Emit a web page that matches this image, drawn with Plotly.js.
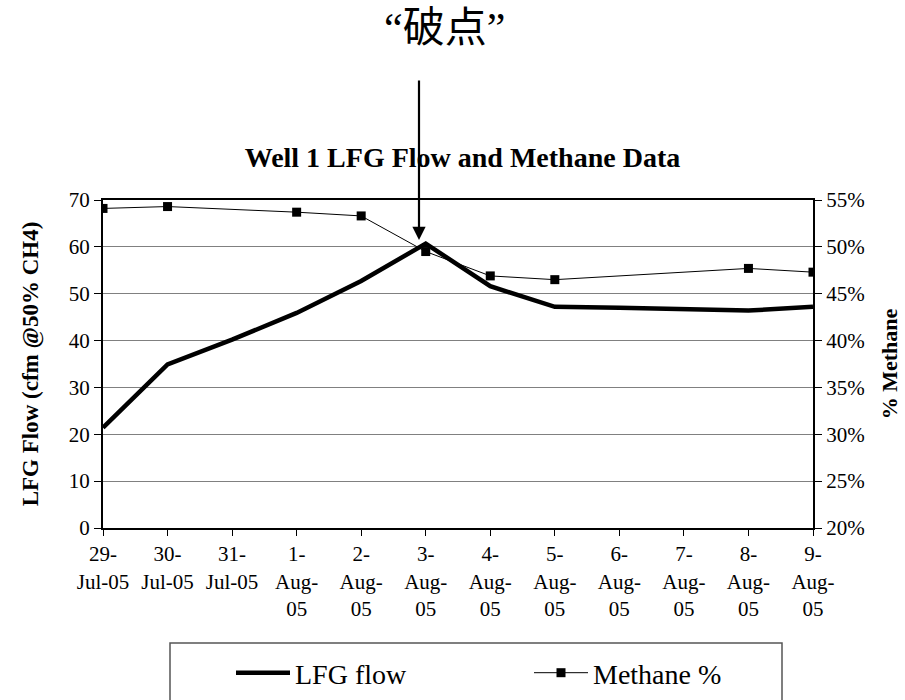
<!DOCTYPE html>
<html>
<head>
<meta charset="utf-8">
<script src="https://cdn.plot.ly/plotly-3.0.1.min.js"></script>
<style>html,body{margin:0;padding:0;background:#fff;}#chart{width:905px;height:700px;}</style>
</head>
<body>
<div id="chart"></div>
<script>
// ---- data ----
const dates = ["29-<br>Jul-05", "30-<br>Jul-05", "31-<br>Jul-05", "1-<br>Aug-<br>05", "2-<br>Aug-<br>05", "3-<br>Aug-<br>05",
               "4-<br>Aug-<br>05", "5-<br>Aug-<br>05", "6-<br>Aug-<br>05", "7-<br>Aug-<br>05", "8-<br>Aug-<br>05", "9-<br>Aug-<br>05"];
const lfgFlow = [21.4, 34.9, 40.2, 45.9, 52.7, 60.7, 51.6, 47.2, 47.0, 46.6, 46.4, 47.2];
const methanePct = [54.1, 54.3, null, 53.7, 53.3, 49.5, 46.9, 46.5, null, null, 47.7, 47.3];
const leftRange = [0, 70];
const rightRange = [20, 55];
const chartTitle = "Well 1 LFG Flow and Methane Data";
const calloutText = "“破点”";
const seriesNames = ["LFG flow", "Methane %"];

const serif = "Liberation Serif, Times New Roman, serif";

const traces = [
  {
    x: dates, y: lfgFlow, name: seriesNames[0], type: "scatter", mode: "lines",
    line: {color: "#000", width: 4.5}, yaxis: "y"
  },
  {
    x: dates, y: methanePct, name: seriesNames[1], type: "scatter", mode: "lines+markers",
    line: {color: "#000", width: 1}, marker: {symbol: "square", size: 9, color: "#000"},
    connectgaps: true, yaxis: "y2"
  }
];

const layout = {
  width: 905, height: 700,
  paper_bgcolor: "#fff", plot_bgcolor: "#fff",
  margin: {l: 103, r: 92, t: 200, b: 172},
  font: {family: serif, color: "#000"},
  showlegend: true,
  hovermode: false,
  title: {
    text: "<b>" + chartTitle + "</b>",
    font: {family: serif, size: 28, color: "#000"},
    x: 0.511, xref: "container", xanchor: "center",
    y: 1 - 157 / 700, yref: "container", yanchor: "middle"
  },
  xaxis: {
    type: "category", range: [0, dates.length - 1],
    showline: true, linecolor: "#000", linewidth: 2, mirror: true,
    ticks: "outside", ticklen: 6, tickcolor: "#000", tickwidth: 1,
    showgrid: false, zeroline: false,
    tickfont: {family: serif, size: 21, color: "#000"},
    tickangle: 0, automargin: false
  },
  yaxis: {
    range: leftRange, tick0: 0, dtick: 10, tickmode: "linear",
    showline: true, linecolor: "#000", linewidth: 2,
    ticks: "outside", ticklen: 7, tickcolor: "#000",
    showgrid: true, gridcolor: "#808080", gridwidth: 1, zeroline: false,
    tickfont: {family: serif, size: 21, color: "#000"},
    title: {text: "<b>LFG Flow (cfm @50% CH4)</b>", font: {family: serif, size: 23, color: "#000"}, standoff: 24},
    automargin: false
  },
  yaxis2: {
    overlaying: "y", side: "right", range: rightRange, tick0: 20, dtick: 5, tickmode: "linear",
    ticksuffix: "%", showticksuffix: "all",
    showline: true, linecolor: "#000", linewidth: 2,
    ticks: "outside", ticklen: 7, tickcolor: "#000",
    showgrid: false, zeroline: false,
    tickfont: {family: serif, size: 21, color: "#000"},
    title: {text: "<b>% Methane</b>", font: {family: serif, size: 22, color: "#000"}, standoff: 18},
    automargin: false
  },
  legend: {
    orientation: "h",
    xref: "paper", x: (231 - 103) / 710, xanchor: "left",
    yref: "container", y: 1 - 673 / 700, yanchor: "middle",
    font: {family: serif, size: 28, color: "#000"},
    bgcolor: "rgba(0,0,0,0)", borderwidth: 0,
    itemwidth: 54, entrywidth: 229, entrywidthmode: "pixels",
    itemclick: false, itemdoubleclick: false
  },
  shapes: [
    {type: "rect", xref: "paper", yref: "paper",
     x0: (170 - 103) / 710, x1: (782 - 103) / 710,
     y0: (528 - 643) / 328, y1: (528 - 720) / 328,
     line: {color: "#555", width: 1.5}, fillcolor: "rgba(0,0,0,0)", layer: "below"}
  ],
  annotations: [
    {xref: "paper", yref: "paper", x: (419 - 103) / 710, y: (528 - 240) / 328,
     text: "", showarrow: true, arrowhead: 2, arrowsize: 1.2, arrowwidth: 2.2, arrowcolor: "#000",
     ax: 0, ay: -161, axref: "pixel", ayref: "pixel"},
    {xref: "paper", yref: "paper", x: (444 - 103) / 710, y: (528 - 28) / 328,
     xanchor: "center", yanchor: "middle", showarrow: false,
     text: calloutText,
     font: {family: "Liberation Serif, Noto Sans CJK SC, serif", size: 42, color: "#000"}}
  ]
};

Plotly.newPlot("chart", traces, layout, {displayModeBar: false, staticPlot: true});
</script>
</body>
</html>
